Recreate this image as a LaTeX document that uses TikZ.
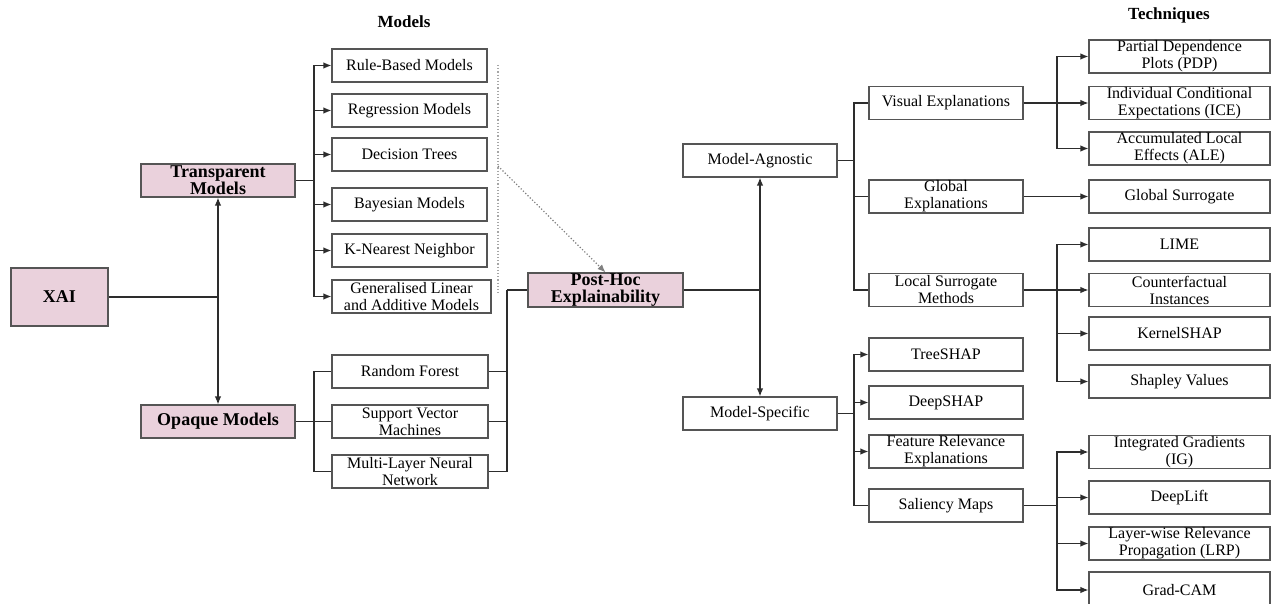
\documentclass[tikz,border=0pt]{standalone}
\usepackage{fontspec}
\setmainfont{Liberation Serif}
\usetikzlibrary{arrows.meta}
\definecolor{pinkfill}{RGB}{234,209,220}
\definecolor{boxline}{RGB}{85,85,85}
\definecolor{conn}{RGB}{45,45,45}
\tikzset{
  base/.style={draw=boxline, line width=1.2pt, align=center, inner sep=0pt, minimum height=33pt},
  wbox/.style={base, fill=white, font=\fontsize{16}{17}\selectfont},
  pbox/.style={base, fill=pinkfill, font=\fontsize{18}{17}\selectfont\bfseries},
  ttl/.style={font=\fontsize{17}{17}\selectfont\bfseries, inner sep=0pt},
  ln/.style={draw=conn, line width=1.2pt},
  arr/.style={ln, -{Latex[length=8pt,width=6.5pt]}},
  dots/.style={draw=gray!70, line width=1.2pt, dotted},
}
\begin{document}
\begin{tikzpicture}[x=1pt,y=-1pt]
\clip (0,0) rectangle (1274,604);
\fill[white] (0,0) rectangle (1274,604);
% titles
\node[ttl] (tmod) at (404,22) {Models};
\node[ttl] (ttech) at (1169,15) {Techniques};
% pink nodes
\node[pbox, minimum width=97pt, minimum height=58pt] (xai) at (59.5,297) {XAI};
\node[pbox, minimum width=154pt] (tm) at (218,180.5) {Transparent\\Models};
\node[pbox, minimum width=154pt] (om) at (218,421.5) {Opaque Models};
\node[pbox, minimum width=155pt, minimum height=34pt] (ph) at (605.5,290) {Post-Hoc\\Explainability};
% models
\node[wbox, minimum width=155pt] (rb) at (409.5,65.5) {Rule-Based Models};
\node[wbox, minimum width=155pt] (rg) at (409.5,110.5) {Regression Models};
\node[wbox, minimum width=155pt] (dt) at (409.5,154.5) {Decision Trees};
\node[wbox, minimum width=155pt] (bm) at (409.5,204.5) {Bayesian Models};
\node[wbox, minimum width=155pt] (kn) at (409.5,250.5) {K-Nearest Neighbor};
\node[wbox, minimum width=159pt] (gl) at (411.5,296.5) {Generalised Linear\\and Additive Models};
\node[wbox, minimum width=156pt] (rf) at (410,371.5) {Random Forest};
\node[wbox, minimum width=156pt] (sv) at (410,421.5) {Support Vector\\Machines};
\node[wbox, minimum width=156pt] (ml) at (410,471.5) {Multi-Layer Neural\\Network};
% model-agnostic / specific
\node[wbox, minimum width=154pt] (ma) at (760,160.5) {Model-Agnostic};
\node[wbox, minimum width=154pt] (ms) at (760,413.5) {Model-Specific};
% middle column
\node[wbox, minimum width=154pt] (ve) at (946,103) {Visual Explanations};
\node[wbox, minimum width=154pt] (ge) at (946,196.5) {Global\\Explanations};
\node[wbox, minimum width=154pt] (ls) at (946,290) {Local Surrogate\\Methods};
\node[wbox, minimum width=154pt] (ts) at (946,354.5) {TreeSHAP};
\node[wbox, minimum width=154pt] (ds) at (946,402.5) {DeepSHAP};
\node[wbox, minimum width=154pt] (fr) at (946,451.5) {Feature Relevance\\Explanations};
\node[wbox, minimum width=154pt] (sm) at (946,505.5) {Saliency Maps};
% techniques
\node[wbox, minimum width=181pt] (pdp) at (1179.5,56.5) {Partial Dependence\\Plots (PDP)};
\node[wbox, minimum width=181pt] (ice) at (1179.5,103) {Individual Conditional\\Expectations (ICE)};
\node[wbox, minimum width=181pt] (ale) at (1179.5,148.5) {Accumulated Local\\Effects (ALE)};
\node[wbox, minimum width=181pt] (gs) at (1179.5,196.5) {Global Surrogate};
\node[wbox, minimum width=181pt] (lime) at (1179.5,244.5) {LIME};
\node[wbox, minimum width=181pt] (cf) at (1179.5,290) {Counterfactual\\Instances};
\node[wbox, minimum width=181pt] (ks) at (1179.5,333.5) {KernelSHAP};
\node[wbox, minimum width=181pt] (sh) at (1179.5,381.5) {Shapley Values};
\node[wbox, minimum width=181pt] (ig) at (1179.5,452) {Integrated Gradients\\(IG)};
\node[wbox, minimum width=181pt] (dl) at (1179.5,497.5) {DeepLift};
\node[wbox, minimum width=181pt] (lrp) at (1179.5,543.5) {Layer-wise Relevance\\Propagation (LRP)};
\node[wbox, minimum width=181pt, minimum height=36pt] (gc) at (1179.5,590) {Grad-CAM};
% junction coordinates
\coordinate (jx) at (218,297);
\coordinate (jt) at (314,180.5);
\coordinate (jo) at (314,421.5);
\coordinate (jp) at (507,290);
\coordinate (jd1) at (498,65);
\coordinate (jd2) at (498,295);
\coordinate (jd3) at (498,166);
\coordinate (jm) at (760,290);
\coordinate (ja) at (854,160.5);
\coordinate (js) at (854,413.5);
\coordinate (jv) at (1057,103);
\coordinate (jl) at (1057,290);
\coordinate (jsm) at (1057,505.5);
% connectors
\draw[ln] (xai.east) -- (jx);
\draw[arr] (jx) -- (tm.south);
\draw[arr] (jx) -- (om.north);
\draw[ln] (tm.east) -- (jt);
\foreach \n in {rb,rg,dt,bm,kn,gl} \draw[arr] (jt) |- (\n.west);
\draw[ln] (om.east) -- (jo);
\foreach \n in {rf,sv,ml} \draw[ln] (jo) |- (\n.west);
\foreach \n in {rf,sv,ml} \draw[ln] (\n.east) -| (jp);
\draw[ln] (jp) -- (ph.west);
\draw[dots] (jd1) -- (jd2);
\draw[dots, -{Latex[length=8pt,width=6.5pt]}, draw=gray] (jd3) -- (ph.north);
\draw[ln] (ph.east) -- (jm);
\draw[arr] (jm) -- (ma.south);
\draw[arr] (jm) -- (ms.north);
\draw[ln] (ma.east) -- (ja);
\foreach \n in {ve,ge,ls} \draw[ln] (ja) |- (\n.west);
\draw[ln] (ms.east) -- (js);
\foreach \n in {ts,ds,fr} \draw[arr] (js) |- (\n.west);
\draw[ln] (js) |- (sm.west);
\draw[ln] (ve.east) -- (jv);
\foreach \n in {pdp,ice,ale} \draw[arr] (jv) |- (\n.west);
\draw[arr] (ge.east) -- (gs.west);
\draw[ln] (ls.east) -- (jl);
\foreach \n in {lime,cf,ks,sh} \draw[arr] (jl) |- (\n.west);
\draw[ln] (sm.east) -- (jsm);
\foreach \n in {ig,dl,lrp,gc} \draw[arr] (jsm) |- (\n.west);
\end{tikzpicture}
\end{document}
